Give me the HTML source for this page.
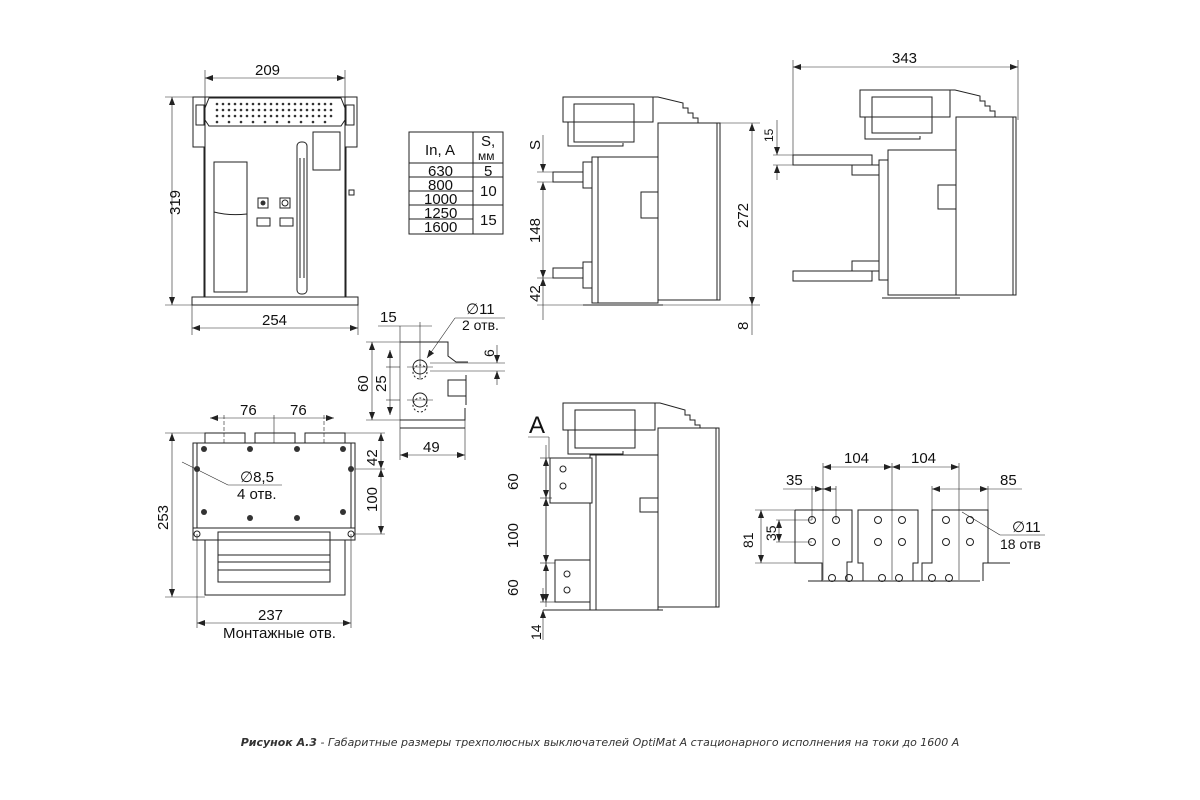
<!DOCTYPE html>
<html><head><meta charset="utf-8"><style>
html,body{margin:0;padding:0;background:#fff;}
svg{display:block;font-family:"Liberation Sans",sans-serif;}
.l{fill:none;stroke:#222;stroke-width:1;}
.t{stroke:#222;stroke-width:0.6;fill:none;}
.f{fill:#fff;stroke:#222;stroke-width:1;}
text{fill:#111;font-size:15px;}
</style></head><body>
<svg width="1200" height="800" viewBox="0 0 1200 800" xmlns="http://www.w3.org/2000/svg">
<defs>
<marker id="a" markerWidth="8" markerHeight="6" refX="8" refY="3" orient="auto-start-reverse" markerUnits="userSpaceOnUse"><path d="M0,0 L8,3 L0,6z" fill="#222"/></marker>
</defs>

<!-- FRONT VIEW -->
<g>
<line class="t" x1="205" y1="70" x2="205" y2="100"/><line class="t" x1="345" y1="70" x2="345" y2="100"/>
<line class="t" x1="205" y1="78" x2="345" y2="78" marker-start="url(#a)" marker-end="url(#a)"/>
<text x="255" y="75">209</text>
<line class="t" x1="165" y1="97" x2="200" y2="97"/><line class="t" x1="165" y1="305" x2="192" y2="305"/>
<line class="t" x1="172" y1="97" x2="172" y2="305" marker-start="url(#a)" marker-end="url(#a)"/>
<text transform="translate(180,215) rotate(-90)">319</text>
<rect class="f" x="205" y="97" width="140" height="200"/>
<path class="l" d="M209,98 h132 l4,10 v12 l-4,6 h-132 l-4,-6 v-12z"/>
<g fill="#333">
<circle cx="217" cy="104" r="1.3"/><circle cx="223" cy="104" r="1.3"/><circle cx="229" cy="104" r="1.3"/><circle cx="235" cy="104" r="1.3"/><circle cx="241" cy="104" r="1.3"/><circle cx="247" cy="104" r="1.3"/><circle cx="253" cy="104" r="1.3"/><circle cx="259" cy="104" r="1.3"/><circle cx="265" cy="104" r="1.3"/><circle cx="271" cy="104" r="1.3"/><circle cx="277" cy="104" r="1.3"/><circle cx="283" cy="104" r="1.3"/><circle cx="289" cy="104" r="1.3"/><circle cx="295" cy="104" r="1.3"/><circle cx="301" cy="104" r="1.3"/><circle cx="307" cy="104" r="1.3"/><circle cx="313" cy="104" r="1.3"/><circle cx="319" cy="104" r="1.3"/><circle cx="325" cy="104" r="1.3"/><circle cx="331" cy="104" r="1.3"/>
<circle cx="217" cy="110" r="1.3"/><circle cx="223" cy="110" r="1.3"/><circle cx="229" cy="110" r="1.3"/><circle cx="235" cy="110" r="1.3"/><circle cx="241" cy="110" r="1.3"/><circle cx="247" cy="110" r="1.3"/><circle cx="253" cy="110" r="1.3"/><circle cx="259" cy="110" r="1.3"/><circle cx="265" cy="110" r="1.3"/><circle cx="271" cy="110" r="1.3"/><circle cx="277" cy="110" r="1.3"/><circle cx="283" cy="110" r="1.3"/><circle cx="289" cy="110" r="1.3"/><circle cx="295" cy="110" r="1.3"/><circle cx="301" cy="110" r="1.3"/><circle cx="307" cy="110" r="1.3"/><circle cx="313" cy="110" r="1.3"/><circle cx="319" cy="110" r="1.3"/><circle cx="325" cy="110" r="1.3"/><circle cx="331" cy="110" r="1.3"/>
<circle cx="217" cy="116" r="1.3"/><circle cx="223" cy="116" r="1.3"/><circle cx="229" cy="116" r="1.3"/><circle cx="235" cy="116" r="1.3"/><circle cx="241" cy="116" r="1.3"/><circle cx="247" cy="116" r="1.3"/><circle cx="253" cy="116" r="1.3"/><circle cx="259" cy="116" r="1.3"/><circle cx="265" cy="116" r="1.3"/><circle cx="271" cy="116" r="1.3"/><circle cx="277" cy="116" r="1.3"/><circle cx="283" cy="116" r="1.3"/><circle cx="289" cy="116" r="1.3"/><circle cx="295" cy="116" r="1.3"/><circle cx="301" cy="116" r="1.3"/><circle cx="307" cy="116" r="1.3"/><circle cx="313" cy="116" r="1.3"/><circle cx="319" cy="116" r="1.3"/><circle cx="325" cy="116" r="1.3"/><circle cx="331" cy="116" r="1.3"/>
<circle cx="217" cy="122" r="1.3"/><circle cx="229" cy="122" r="1.3"/><circle cx="241" cy="122" r="1.3"/><circle cx="253" cy="122" r="1.3"/><circle cx="265" cy="122" r="1.3"/><circle cx="277" cy="122" r="1.3"/><circle cx="289" cy="122" r="1.3"/><circle cx="301" cy="122" r="1.3"/><circle cx="313" cy="122" r="1.3"/><circle cx="325" cy="122" r="1.3"/>
</g>
<rect class="f" x="193" y="97" width="12" height="50"/><rect class="f" x="345" y="97" width="12" height="50"/>
<rect class="l" x="196" y="105" width="8" height="20"/><rect class="l" x="346" y="105" width="8" height="20"/>
<line class="l" x1="204" y1="147" x2="204" y2="297"/><line class="l" x1="346" y1="147" x2="346" y2="297"/>
<rect class="l" x="214" y="162" width="33" height="130"/>
<path class="l" d="M214,212 q15,4 33,2"/>
<rect class="l" x="297" y="142" width="10" height="152" rx="4"/>
<line class="l" x1="300" y1="158" x2="300" y2="278"/><line class="l" x1="304" y1="158" x2="304" y2="278"/>
<rect class="l" x="313" y="132" width="27" height="38"/>
<rect class="l" x="258" y="198" width="10" height="10"/><circle cx="263" cy="203" r="2.5" fill="#333"/>
<rect class="l" x="280" y="198" width="10" height="10"/><circle cx="285" cy="203" r="3" class="l"/>
<rect class="l" x="257" y="218" width="13" height="8"/><rect class="l" x="280" y="218" width="13" height="8"/>
<rect class="l" x="349" y="190" width="5" height="5"/>
<rect class="f" x="192" y="297" width="166" height="8"/>
<line class="t" x1="192" y1="305" x2="192" y2="335"/><line class="t" x1="358" y1="305" x2="358" y2="335"/>
<line class="t" x1="192" y1="328" x2="358" y2="328" marker-start="url(#a)" marker-end="url(#a)"/>
<text x="262" y="325">254</text>
</g>

<!-- TABLE -->
<g>
<rect class="l" x="409" y="132" width="94" height="102"/>
<line class="l" x1="473" y1="132" x2="473" y2="234"/>
<line class="l" x1="409" y1="163" x2="503" y2="163"/>
<line class="l" x1="409" y1="177" x2="503" y2="177"/>
<line class="l" x1="409" y1="191" x2="473" y2="191"/>
<line class="l" x1="409" y1="205" x2="503" y2="205"/>
<line class="l" x1="409" y1="219" x2="473" y2="219"/>
<text x="425" y="155">In, A</text>
<text x="481" y="146">S,</text><text x="478" y="160" style="font-size:12px">мм</text>
<text x="428" y="176">630</text><text x="484" y="176">5</text>
<text x="428" y="190">800</text><text x="424" y="204">1000</text><text x="480" y="196">10</text>
<text x="424" y="218">1250</text><text x="424" y="232">1600</text><text x="480" y="225">15</text>
</g>

<!-- SIDE VIEW 1 -->
<g>
<rect class="f" x="563" y="97" width="90" height="25"/>
<path class="l" d="M653,97 h5 l25,6 v5 h5 v5 h5 v5 h5 v5"/>
<path class="l" d="M568,122 v24 h55 v-3"/>
<rect class="l" x="574" y="104" width="60" height="38"/>
<rect class="f" x="658" y="123" width="62" height="177"/>
<line class="l" x1="717" y1="123" x2="717" y2="300"/>
<rect class="f" x="592" y="157" width="66" height="146"/>
<line class="l" x1="598" y1="157" x2="598" y2="303"/>
<rect class="l" x="641" y="192" width="17" height="26"/>
<rect class="f" x="553" y="172" width="30" height="10"/>
<rect class="f" x="583" y="162" width="9" height="26"/>
<rect class="f" x="553" y="268" width="30" height="10"/>
<rect class="f" x="583" y="262" width="9" height="26"/>
<line class="l" x1="583" y1="305" x2="663" y2="305"/>
<line class="t" x1="537" y1="305" x2="583" y2="305"/>
<line class="t" x1="537" y1="172" x2="555" y2="172"/><line class="t" x1="537" y1="182" x2="555" y2="182"/>
<line class="t" x1="537" y1="278" x2="555" y2="278"/>
<line class="t" x1="543" y1="135" x2="543" y2="172" marker-end="url(#a)"/>
<line class="t" x1="543" y1="182" x2="543" y2="278" marker-start="url(#a)" marker-end="url(#a)"/>
<line class="t" x1="543" y1="278" x2="543" y2="320" marker-start="url(#a)"/>
<text transform="translate(540,150) rotate(-90)">S</text>
<text transform="translate(540,243) rotate(-90)">148</text>
<text transform="translate(540,302) rotate(-90)">42</text>
<line class="t" x1="720" y1="123" x2="760" y2="123"/><line class="t" x1="663" y1="305" x2="760" y2="305"/>
<line class="t" x1="752" y1="123" x2="752" y2="305" marker-start="url(#a)" marker-end="url(#a)"/>
<line class="t" x1="752" y1="305" x2="752" y2="335"/>
<text transform="translate(748,228) rotate(-90)">272</text>
<text transform="translate(748,330) rotate(-90)">8</text>
</g>

<!-- SIDE VIEW 2 -->
<g>
<line class="t" x1="793" y1="60" x2="793" y2="165"/><line class="t" x1="1018" y1="60" x2="1018" y2="120"/>
<line class="t" x1="793" y1="67" x2="1018" y2="67" marker-start="url(#a)" marker-end="url(#a)"/>
<text x="892" y="63">343</text>
<rect class="f" x="860" y="90" width="90" height="27"/>
<path class="l" d="M950,90 h5 l25,6 v5 h5 v5 h5 v5 h5 v6"/>
<path class="l" d="M865,117 v22 h55 v-3"/>
<rect class="l" x="872" y="97" width="60" height="36"/>
<rect class="f" x="956" y="117" width="60" height="178"/>
<line class="l" x1="1013" y1="117" x2="1013" y2="295"/>
<rect class="f" x="888" y="150" width="68" height="145"/>
<rect class="l" x="938" y="185" width="18" height="24"/>
<rect class="f" x="793" y="155" width="79" height="10"/>
<rect class="f" x="852" y="165" width="30" height="10"/>
<rect class="f" x="793" y="271" width="79" height="10"/>
<rect class="f" x="852" y="261" width="30" height="10"/>
<rect class="f" x="879" y="160" width="9" height="120"/>
<line class="l" x1="882" y1="298" x2="960" y2="298"/>
<line class="t" x1="773" y1="155" x2="793" y2="155"/><line class="t" x1="773" y1="165" x2="793" y2="165"/>
<line class="t" x1="777" y1="120" x2="777" y2="155" marker-end="url(#a)"/>
<line class="t" x1="777" y1="165" x2="777" y2="180" marker-start="url(#a)"/>
<text transform="translate(773,142) rotate(-90)" style="font-size:12px">15</text>
</g>

<!-- DETAIL -->
<g>
<line class="t" x1="378" y1="326" x2="432" y2="326"/>
<line class="t" x1="400" y1="326" x2="400" y2="460"/>
<line class="t" x1="420" y1="322" x2="420" y2="380"/>
<text x="380" y="322">15</text>
<path class="l" d="M400,342 h48 v14 l8,6 h12"/>
<path class="l" d="M400,420 h65 v-12"/>
<path class="l" d="M400,428 h65"/>
<rect class="l" x="448" y="380" width="18" height="16"/>
<line class="l" x1="466" y1="375" x2="466" y2="405"/>
<circle class="l" cx="420" cy="367" r="7"/><circle class="l" cx="420" cy="372" r="7" stroke-dasharray="2,2"/>
<circle class="l" cx="420" cy="400" r="7"/><circle class="l" cx="420" cy="405" r="7" stroke-dasharray="2,2"/>
<line class="t" x1="407" y1="367" x2="433" y2="367"/><line class="t" x1="407" y1="400" x2="433" y2="400"/>
<line class="t" x1="455" y1="318" x2="505" y2="318"/>
<line class="t" x1="455" y1="318" x2="427" y2="358" marker-end="url(#a)"/>
<text x="466" y="314">∅11</text><text x="462" y="330" style="font-size:14px">2 отв.</text>
<line class="t" x1="366" y1="342" x2="400" y2="342"/><line class="t" x1="366" y1="420" x2="400" y2="420"/>
<line class="t" x1="372" y1="342" x2="372" y2="420" marker-start="url(#a)" marker-end="url(#a)"/>
<text transform="translate(368,392) rotate(-90)">60</text>
<line class="t" x1="386" y1="367" x2="400" y2="367"/><line class="t" x1="386" y1="400" x2="400" y2="400"/>
<line class="t" x1="390" y1="350" x2="390" y2="415" marker-start="url(#a)" marker-end="url(#a)"/>
<text transform="translate(386,392) rotate(-90)">25</text>
<line class="t" x1="430" y1="363" x2="505" y2="363"/><line class="t" x1="430" y1="371" x2="505" y2="371"/>
<line class="t" x1="497" y1="345" x2="497" y2="363" marker-end="url(#a)"/>
<line class="t" x1="497" y1="371" x2="497" y2="385" marker-start="url(#a)"/>
<text transform="translate(494,357) rotate(-90)" style="font-size:14px">6</text>
<line class="t" x1="465" y1="420" x2="465" y2="460"/>
<line class="t" x1="400" y1="455" x2="465" y2="455" marker-start="url(#a)" marker-end="url(#a)"/>
<text x="423" y="452">49</text>
</g>

<!-- BOTTOM VIEW -->
<g>
<line class="t" x1="210" y1="418" x2="334" y2="418" marker-start="url(#a)" marker-end="url(#a)"/>
<line class="t" x1="224" y1="415" x2="224" y2="470" stroke-dasharray="4,2"/>
<line class="t" x1="274" y1="415" x2="274" y2="485"/>
<line class="t" x1="324" y1="415" x2="324" y2="470" stroke-dasharray="4,2"/>
<text x="240" y="415">76</text><text x="290" y="415">76</text>
<rect class="l" x="205" y="433" width="40" height="12"/><rect class="l" x="255" y="433" width="40" height="12"/><rect class="l" x="305" y="433" width="40" height="12"/>
<rect class="f" x="193" y="443" width="162" height="85"/>
<line class="l" x1="197" y1="443" x2="197" y2="528"/><line class="l" x1="351" y1="443" x2="351" y2="528"/>
<g fill="#333">
<circle cx="204" cy="449" r="3"/><circle cx="250" cy="449" r="3"/><circle cx="297" cy="449" r="3"/><circle cx="343" cy="449" r="3"/>
<circle cx="197" cy="469" r="3"/><circle cx="351" cy="469" r="3"/>
<circle cx="204" cy="512" r="3"/><circle cx="250" cy="518" r="3"/><circle cx="297" cy="518" r="3"/><circle cx="343" cy="512" r="3"/>
</g>
<rect class="f" x="193" y="528" width="162" height="12"/>
<circle class="l" cx="197" cy="534" r="3"/><circle class="l" cx="351" cy="534" r="3"/>
<path class="l" d="M205,540 v55 h140 v-55"/>
<rect class="l" x="218" y="532" width="112" height="50"/>
<line class="l" x1="218" y1="555" x2="330" y2="555"/><line class="l" x1="218" y1="562" x2="330" y2="562"/><line class="l" x1="218" y1="570" x2="330" y2="570"/>
<line class="t" x1="182" y1="462" x2="228" y2="485"/><line class="t" x1="228" y1="485" x2="282" y2="485"/>
<text x="240" y="482">∅8,5</text><text x="237" y="499">4 отв.</text>
<line class="t" x1="165" y1="433" x2="205" y2="433"/><line class="t" x1="165" y1="597" x2="205" y2="597"/>
<line class="t" x1="172" y1="433" x2="172" y2="597" marker-start="url(#a)" marker-end="url(#a)"/>
<text transform="translate(168,530) rotate(-90)">253</text>
<line class="t" x1="345" y1="433" x2="385" y2="433"/><line class="t" x1="355" y1="469" x2="385" y2="469"/><line class="t" x1="355" y1="534" x2="385" y2="534"/>
<line class="t" x1="381" y1="433" x2="381" y2="469" marker-start="url(#a)" marker-end="url(#a)"/>
<line class="t" x1="381" y1="469" x2="381" y2="534" marker-start="url(#a)" marker-end="url(#a)"/>
<text transform="translate(377,466) rotate(-90)">42</text>
<text transform="translate(377,512) rotate(-90)">100</text>
<line class="t" x1="197" y1="534" x2="197" y2="628"/><line class="t" x1="351" y1="534" x2="351" y2="628"/>
<line class="t" x1="197" y1="623" x2="351" y2="623" marker-start="url(#a)" marker-end="url(#a)"/>
<text x="258" y="620">237</text>
<text x="223" y="638">Монтажные отв.</text>
</g>

<!-- SIDE VIEW 3 -->
<g>
<text x="529" y="433" style="font-size:24px">A</text>
<line class="t" x1="528" y1="437" x2="549" y2="437"/><line class="t" x1="549" y1="437" x2="549" y2="458"/>
<rect class="f" x="563" y="403" width="92" height="27"/>
<path class="l" d="M655,403 h5 l25,7 v5 h5 v5 h5 v5 h5 v5"/>
<path class="l" d="M568,430 v24 h55 v-3"/>
<rect class="l" x="575" y="410" width="60" height="38"/>
<rect class="f" x="658" y="428" width="61" height="179"/>
<line class="l" x1="716" y1="428" x2="716" y2="607"/>
<rect class="f" x="590" y="455" width="68" height="155"/>
<line class="l" x1="596" y1="455" x2="596" y2="610"/>
<rect class="l" x="640" y="498" width="18" height="14"/>
<path class="f" d="M550,458 h42 v45 h-42z"/>
<path class="f" d="M555,560 h35 v42 h-35z"/>
<circle class="l" cx="563" cy="469" r="3"/><circle class="l" cx="563" cy="486" r="3"/>
<circle class="l" cx="567" cy="574" r="3"/><circle class="l" cx="567" cy="590" r="3"/>
<line class="l" x1="543" y1="610" x2="663" y2="610"/>
<line class="t" x1="540" y1="458" x2="552" y2="458"/><line class="t" x1="540" y1="498" x2="552" y2="498"/><line class="t" x1="540" y1="563" x2="555" y2="563"/><line class="t" x1="540" y1="602" x2="555" y2="602"/>
<line class="t" x1="546" y1="445" x2="546" y2="607" />
<line class="t" x1="546" y1="458" x2="546" y2="498" marker-start="url(#a)" marker-end="url(#a)"/>
<line class="t" x1="546" y1="498" x2="546" y2="563" marker-start="url(#a)" marker-end="url(#a)"/>
<line class="t" x1="546" y1="563" x2="546" y2="602" marker-start="url(#a)" marker-end="url(#a)"/>
<text transform="translate(518,490) rotate(-90)">60</text>
<text transform="translate(518,548) rotate(-90)">100</text>
<text transform="translate(518,596) rotate(-90)">60</text>
<line class="t" x1="543" y1="588" x2="543" y2="602" marker-end="url(#a)"/>
<line class="t" x1="543" y1="610" x2="543" y2="640" marker-start="url(#a)"/>
<text transform="translate(541,640) rotate(-90)" style="font-size:14px">14</text>
</g>

<!-- BUSBARS -->
<g>
<line class="t" x1="755" y1="510" x2="795" y2="510"/><line class="t" x1="755" y1="563" x2="795" y2="563"/>
<line class="t" x1="761" y1="510" x2="761" y2="563" marker-start="url(#a)" marker-end="url(#a)"/>
<text transform="translate(753,548) rotate(-90)" style="font-size:14px">81</text>
<line class="t" x1="776" y1="520" x2="812" y2="520"/><line class="t" x1="776" y1="542" x2="812" y2="542"/>
<line class="t" x1="779" y1="520" x2="779" y2="542" marker-start="url(#a)" marker-end="url(#a)"/>
<text transform="translate(776,541) rotate(-90)" style="font-size:14px">35</text>
<path class="l" d="M795,510 h57 v52 h-5 v19"/>
<path class="l" d="M795,510 v53 h27 v18"/>
<line class="l" x1="795" y1="563" x2="822" y2="563"/>
<path class="l" d="M863,581 v-18 h-5 v-53 h60 v53 h-5 v18"/>
<path class="l" d="M922,581 v-18 h10 v-53 h56 v53 h-5 v18"/>
<line class="l" x1="988" y1="563" x2="1010" y2="563"/>
<line class="l" x1="808" y1="581" x2="980" y2="581"/>
<g class="l">
<circle cx="812" cy="520" r="3.5"/><circle cx="836" cy="520" r="3.5"/><circle cx="812" cy="542" r="3.5"/><circle cx="836" cy="542" r="3.5"/>
<circle cx="878" cy="520" r="3.5"/><circle cx="902" cy="520" r="3.5"/><circle cx="878" cy="542" r="3.5"/><circle cx="902" cy="542" r="3.5"/>
<circle cx="946" cy="520" r="3.5"/><circle cx="970" cy="520" r="3.5"/><circle cx="946" cy="542" r="3.5"/><circle cx="970" cy="542" r="3.5"/>
<circle cx="832" cy="578" r="3.5"/><circle cx="849" cy="578" r="3.5"/><circle cx="882" cy="578" r="3.5"/><circle cx="899" cy="578" r="3.5"/><circle cx="932" cy="578" r="3.5"/><circle cx="949" cy="578" r="3.5"/>
</g>
<line class="t" x1="823" y1="463" x2="823" y2="580"/><line class="t" x1="892" y1="463" x2="892" y2="580"/><line class="t" x1="959" y1="463" x2="959" y2="580"/>
<line class="t" x1="823" y1="467" x2="892" y2="467" marker-start="url(#a)" marker-end="url(#a)"/>
<line class="t" x1="892" y1="467" x2="959" y2="467" marker-start="url(#a)" marker-end="url(#a)"/>
<text x="844" y="463">104</text><text x="911" y="463">104</text>
<line class="t" x1="812" y1="486" x2="812" y2="520"/><line class="t" x1="836" y1="486" x2="836" y2="520"/>
<line class="t" x1="783" y1="489" x2="836" y2="489"/>
<line class="t" x1="812" y1="489" x2="823" y2="489" marker-end="url(#a)"/><line class="t" x1="836" y1="489" x2="823" y2="489" marker-end="url(#a)"/>
<text x="786" y="485">35</text>
<line class="t" x1="932" y1="486" x2="932" y2="510"/><line class="t" x1="988" y1="486" x2="988" y2="510"/>
<line class="t" x1="932" y1="489" x2="988" y2="489" marker-start="url(#a)" marker-end="url(#a)"/>
<line class="t" x1="988" y1="489" x2="1022" y2="489"/>
<text x="1000" y="485">85</text>
<line class="t" x1="962" y1="512" x2="1000" y2="535"/><line class="t" x1="1000" y1="535" x2="1045" y2="535"/>
<text x="1012" y="532">∅11</text><text x="1000" y="549" style="font-size:14px">18 отв</text>
</g>

<text x="600" y="746" text-anchor="middle" style="font-family:'DejaVu Sans',sans-serif;font-size:11px;font-style:italic;fill:#333"><tspan font-weight="bold">Рисунок А.3</tspan> - Габаритные размеры трехполюсных выключателей OptiMat A стационарного исполнения на токи до 1600 А</text>
</svg>
</body></html>
